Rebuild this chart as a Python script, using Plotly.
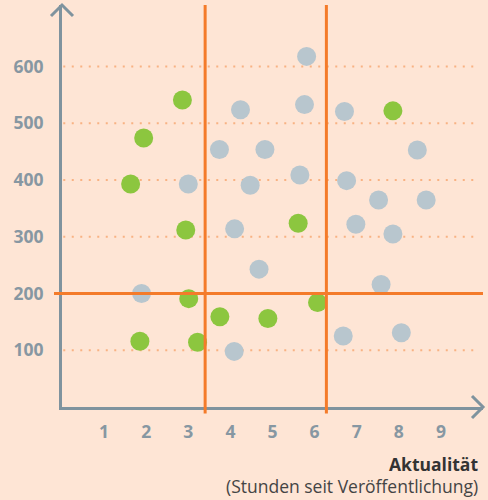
import plotly.graph_objects as go

# Data
green_x = [2.86, 1.94, 1.63, 2.94, 7.86, 5.61, 3.01, 3.75, 1.85, 3.22, 6.07, 4.89]
green_y = [541, 474, 393, 312, 522, 324, 191, 159, 116, 114, 184, 156]

gray_x = [4.24, 3.74, 3.00, 4.47, 4.10, 5.81, 5.76, 6.71, 4.82, 8.44, 5.65,
          6.76, 7.52, 8.65, 6.98, 7.86, 1.89, 4.09, 4.68, 7.58, 6.68, 8.06]
gray_y = [524, 454, 393, 391, 314, 618, 533, 521, 454, 453, 409,
          399, 365, 365, 322, 305, 200, 98, 243, 216, 125, 131]

x_ticks = [1, 2, 3, 4, 5, 6, 7, 8, 9]
y_ticks = [100, 200, 300, 400, 500, 600]
x_thresholds = [3.40, 6.28]
y_threshold = 200

BG = "#fee5d5"
AXIS = "#7f939e"
TICK = "#8797a2"
ORANGE = "#f47b2a"
GRID = "#f8b283"
GREEN = "#8cc63f"
GRAY = "#b8c6ce"

fig = go.Figure()
fig.add_trace(go.Scatter(x=gray_x, y=gray_y, mode="markers",
                         marker=dict(size=19, color=GRAY, line=dict(width=0)),
                         hoverinfo="skip", showlegend=False))
fig.add_trace(go.Scatter(x=green_x, y=green_y, mode="markers",
                         marker=dict(size=19, color=GREEN, line=dict(width=0)),
                         hoverinfo="skip", showlegend=False))

shapes = []
# dotted gridlines
for v in y_ticks:
    shapes.append(dict(type="line", xref="x", yref="y", x0=0.03, x1=9.85, y0=v, y1=v,
                       line=dict(color=GRID, width=2, dash="2px,6.5px"), layer="below"))
# threshold lines
for xv in x_thresholds:
    shapes.append(dict(type="line", xref="x", yref="paper", x0=xv, x1=xv, y0=-0.016, y1=1.0,
                       line=dict(color=ORANGE, width=3), layer="above"))
shapes.append(dict(type="line", xref="paper", yref="y", x0=-0.019, x1=1.0,
                   y0=y_threshold, y1=y_threshold,
                   line=dict(color=ORANGE, width=3), layer="above"))
# arrow heads (paper refs so they are not clipped)
shapes.append(dict(type="path", xref="paper", yref="paper", xsizemode="pixel", ysizemode="pixel",
                   xanchor=0, yanchor=1, path="M -11,-11 L 0,0 L 11,-11",
                   line=dict(color=AXIS, width=3), layer="above"))
shapes.append(dict(type="path", xref="paper", yref="paper", xsizemode="pixel", ysizemode="pixel",
                   xanchor=1, yanchor=0, path="M -11,11 L 0,0 L -11,-11",
                   line=dict(color=AXIS, width=3), layer="above"))

fig.update_layout(
    width=488, height=500,
    margin=dict(l=62, r=5, t=5, b=92.5),
    paper_bgcolor=BG, plot_bgcolor=BG,
    shapes=shapes,
    xaxis=dict(range=[0, 10], tickvals=x_ticks, ticktext=[str(v) for v in x_ticks],
               showgrid=False, zeroline=False, showline=True, linecolor=AXIS, linewidth=3,
               ticks="", ticklabelstandoff=7,
               tickfont=dict(family="Open Sans", size=17.5, color=TICK, weight="bold")),
    yaxis=dict(range=[0, 708.6], tickvals=y_ticks, ticktext=[str(v) for v in y_ticks],
               showgrid=False, zeroline=False, showline=True, linecolor=AXIS, linewidth=3,
               ticks="", ticklabelstandoff=12,
               tickfont=dict(family="Open Sans", size=17.5, color=TICK, weight="bold")),
    annotations=[
        dict(text="<b>Aktualität</b>", xref="paper", yref="paper", x=1.0, y=-0.143,
             xanchor="right", yanchor="middle", showarrow=False, xshift=-3,
             font=dict(family="Open Sans", size=17.5, color="#333333")),
        dict(text="(Stunden seit Veröffentlichung)", xref="paper", yref="paper", x=1.0, y=-0.1975,
             xanchor="right", yanchor="middle", showarrow=False, xshift=-3,
             font=dict(family="Open Sans", size=17.5, color="#444444")),
    ],
)

fig.write_html("out.html", post_script="document.body.style.margin='0';",
               config={"displayModeBar": False})
